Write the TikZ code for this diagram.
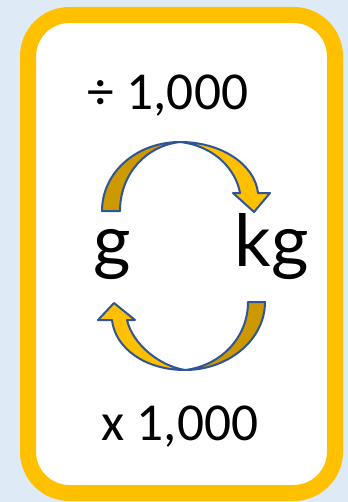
\documentclass[tikz,border=0pt]{standalone}
\usepackage{fontspec}
\setmainfont{Carlito}
\newfontfamily\unitfont{Lato}
\usetikzlibrary{positioning}
\definecolor{colorBack}{RGB}{222, 235, 247}
\definecolor{colorGold}{RGB}{255, 192, 0}
\definecolor{colorGoldDark}{RGB}{204, 154, 0}
\definecolor{colorEdge}{RGB}{47, 85, 151}

\begin{document}
\begin{tikzpicture}[
    x=0.75pt, y=-0.75pt,
    card/.style={draw=colorGold, fill=white, line width=12pt, rounded corners=31pt},
    factor/.style={font=\fontsize{40}{40}\selectfont, inner sep=0pt, anchor=base},
    unit/.style={font=\unitfont\fontsize{54}{54}\selectfont, inner sep=0pt, anchor=base},
    front/.style={fill=colorGold, draw=colorEdge, line width=1.5pt, line join=round},
    back/.style={front, fill=colorGoldDark}
]
    \fill[colorBack] (0,0) rectangle (348,502);
    \useasboundingbox (0,0) rectangle (348,502);
    \draw[card] (28,15) rectangle (335,493);

    \node[factor] (divide) at (168,110) {÷ 1,000};
    \node[factor] (times) at (180,440) {x 1,000};
    \node[unit] (gram) at (112,266) {g};
    \node[unit] (kilo) at (272,266) {kg};

    % upper arrow, g to kg
    \draw[back] (102,211) .. controls (102,172) and (137,142) .. (180,142)
        .. controls (145,146) and (120,175) .. (120,211) -- cycle;
    \draw[front] (180,142) .. controls (222,142) and (255,165) .. (258,193)
        -- (270,193) -- (254,212) -- (233,193) -- (240,193)
        .. controls (236,170) and (215,146) .. (180,142) -- cycle;

    % lower arrow, kg to g
    \draw[back] (265,302) .. controls (265,340) and (228,370) .. (185,370)
        .. controls (220,366) and (248,338) .. (248,302) -- cycle;
    \draw[front] (185,370) .. controls (145,370) and (115,348) .. (112,320)
        -- (98,320) -- (114,303) -- (135,320) -- (127,320)
        .. controls (133,345) and (160,366) .. (185,370) -- cycle;
\end{tikzpicture}
\end{document}
